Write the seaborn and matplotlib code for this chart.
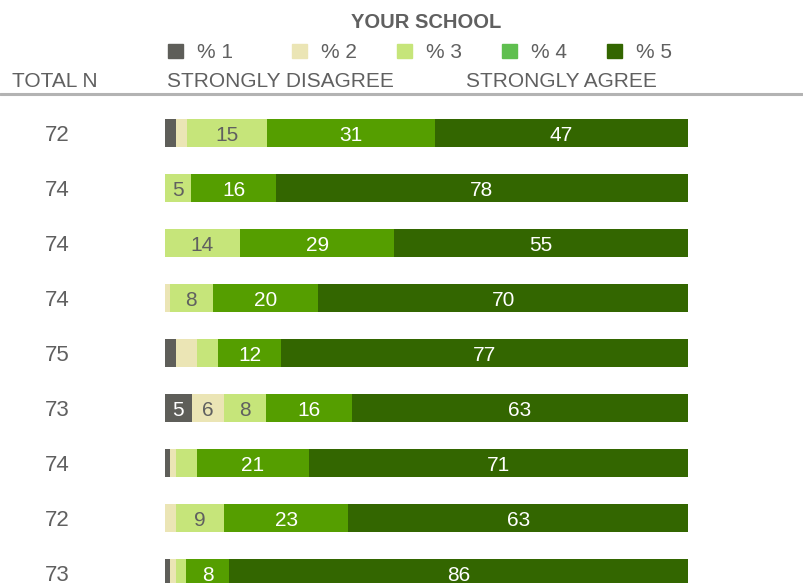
import numpy as np
import pandas as pd
import matplotlib.pyplot as plt
import matplotlib.transforms as mtransforms
from matplotlib.patches import Rectangle
from matplotlib.lines import Line2D
import seaborn as sns

sns.set_style("white")
plt.rcParams['font.family'] = ['Liberation Sans', 'DejaVu Sans']

# data (small unlabeled segments estimated)
total_n = [72, 74, 74, 74, 75, 73, 74, 72, 73]
pct1 = [2, 0, 0, 0, 2, 5, 1, 0, 1]
pct2 = [2, 0, 0, 1, 4, 6, 1, 2, 1]
pct3 = [15, 5, 14, 8, 4, 8, 4, 9, 2]
pct4 = [31, 16, 29, 20, 12, 16, 21, 23, 8]
pct5 = [47, 78, 55, 70, 77, 63, 71, 63, 86]
levels = ['% 1', '% 2', '% 3', '% 4', '% 5']

bar_colors = ['#5e5e59', '#ebe5b5', '#c6e57a', '#559e00', '#336600']
legend_colors = ['#5e5e59', '#ebe5b5', '#c6e57a', '#5fbf4f', '#336600']
label_colors = ['white', '#606060', '#606060', 'white', 'white']
grey = '#606060'

vals = np.array([pct1, pct2, pct3, pct4, pct5], dtype=float)
shares = vals / vals.sum(axis=0) * 100
cum = np.cumsum(shares, axis=0)
rows = [f"r{i}" for i in range(len(total_n))]

W, H = 804, 583
fig = plt.figure(figsize=(W / 100, H / 100), dpi=100)
ax = fig.add_axes([165 / W, 0, (688 - 165) / W, (H - 100) / H])

# layered cumulative bars, widest first
for k in range(4, -1, -1):
    df = pd.DataFrame({'row': rows, 'cum': cum[k]})
    sns.barplot(data=df, x='cum', y='row', order=rows, color=bar_colors[k],
                width=28 / 55, saturation=1, ax=ax, linewidth=0)

for i in range(len(rows)):
    for k in range(5):
        if vals[k, i] >= 5:
            mid = cum[k, i] - shares[k, i] / 2
            ax.text(mid, i, f"{int(vals[k, i])}", ha='center', va='center_baseline',
                    fontsize=15, color=label_colors[k])

ax.set_xlim(0, 100)
ax.set_ylim(8.18, -0.6)
ax.set_xlabel('')
ax.set_ylabel('')
ax.set_xticks([])
ax.set_yticks([])
sns.despine(ax=ax, left=True, bottom=True)

# total N column
trans = mtransforms.blended_transform_factory(fig.transFigure, ax.transData)
for i, n in enumerate(total_n):
    ax.text(57.5 / W, i, str(n), transform=trans, ha='center', va='center_baseline',
            fontsize=16, color=grey, clip_on=False)

# header
def fy(px):
    return 1 - px / H

fig.text(426 / W, fy(20), 'YOUR SCHOOL', ha='center', va='center_baseline',
         fontsize=14.5, fontweight='bold', color=grey)
leg_x = [168, 292, 397, 502, 607]
for x0, lab, c in zip(leg_x, levels, legend_colors):
    fig.patches.append(Rectangle((x0 / W, fy(58)), 15 / W, 14 / H,
                                 transform=fig.transFigure, color=c))
    fig.text((x0 + 29) / W, fy(51), lab, ha='left', va='center_baseline',
             fontsize=15, color=grey)
for x0, lab in [(12, 'TOTAL N'), (167, 'STRONGLY DISAGREE'), (466, 'STRONGLY AGREE')]:
    fig.text(x0 / W, fy(80), lab, ha='left', va='center_baseline', fontsize=15, color=grey)
fig.lines.append(Line2D([0, 802 / W], [fy(94), fy(94)], transform=fig.transFigure,
                        color='#b3b3b3', linewidth=2.2))

fig.savefig('out.png', dpi=100)
